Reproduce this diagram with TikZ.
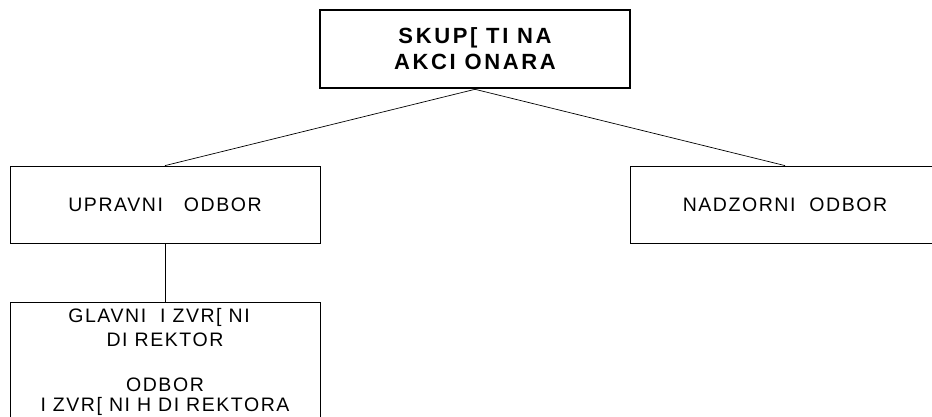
\documentclass[tikz,border=0pt]{standalone}
\usepackage{fontspec}
\setmainfont{Liberation Sans}
\newfontfamily\orgfont[LetterSpace=8]{Liberation Sans}
\newfontfamily\orgboldfont[LetterSpace=12]{Liberation Sans}
\usepackage{tikz}

\begin{document}
\begin{tikzpicture}[
        x=1pt, y=-1pt,
        font=\orgfont\fontsize{19.5}{24}\selectfont,
        unit/.style={draw, line width=0.8pt, align=center, minimum width=310pt, minimum height=77pt, inner sep=0pt},
        assembly/.style={draw, line width=2.6pt, align=center, minimum width=310pt, minimum height=78pt, inner sep=0pt,
          font=\orgboldfont\bfseries\fontsize{22}{26}\selectfont},
        link/.style={line width=0.7pt}
      ]
      \useasboundingbox (0,0) rectangle (932,416);

      \node[assembly] (skup) at (475,49) {SKUP[ TI NA\\AKCI ONARA};

      \node[unit] (upravni) at (165,204.5) {UPRAVNI~~~ODBOR};
      \node[unit] (nadzorni) at (785,204.5) {NADZORNI~~ODBOR};

      % box runs on past the lower edge
      \node[unit, anchor=north, minimum height=0pt, inner ysep=6pt, text depth=110pt] (direktor) at (165,302)
        {GLAVNI~~I ZVR[ NI\hspace*{12pt}\\DI REKTOR\\[21pt]ODBOR\\[-4pt]I ZVR[ NI H DI REKTORA};

      \draw[link] (skup.south) -- (upravni.north);
      \draw[link] (skup.south) -- (nadzorni.north);
      \draw[link] (upravni) -- (direktor);
    \end{tikzpicture}
\end{document}
